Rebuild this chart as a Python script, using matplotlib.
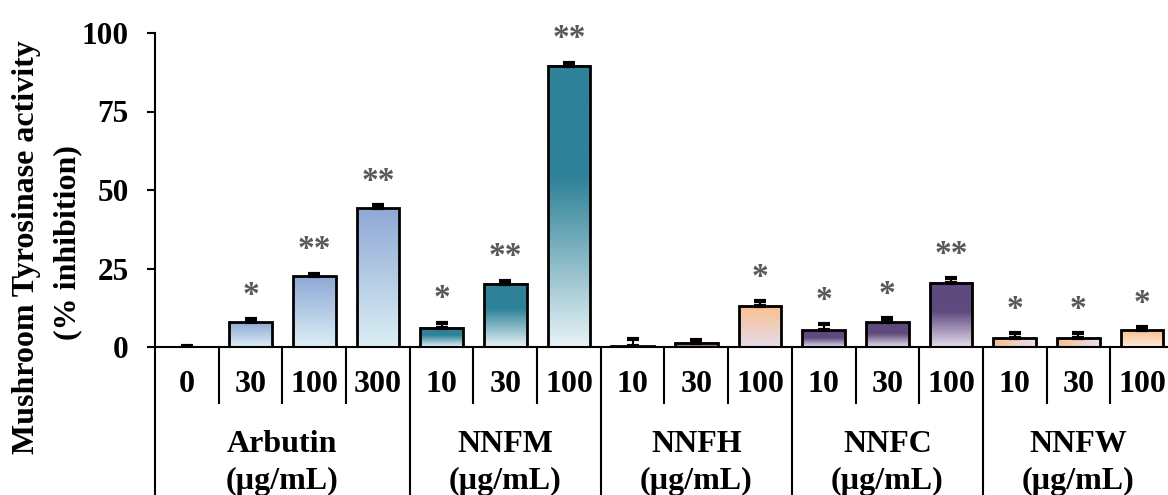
import numpy as np
import matplotlib.pyplot as plt
from matplotlib.colors import LinearSegmentedColormap

plt.rcParams['font.family'] = 'Liberation Serif'
plt.rcParams['font.weight'] = 'bold'

# Extracts and concentrations (ug/mL)
groups = ['Arbutin', 'NNFM', 'NNFH', 'NNFC', 'NNFW']
doses = [['0', '30', '100', '300'],
         ['10', '30', '100'],
         ['10', '30', '100'],
         ['10', '30', '100'],
         ['10', '30', '100']]

# Mean % inhibition, SEM and significance marks, one per bar
inhibition = [0.0, 7.9, 22.6, 44.2,
              6.2, 20.1, 89.6,
              0.3, 1.4, 13.2,
              5.4, 7.9, 20.4,
              3.0, 3.0, 5.4]
sem = [0.2, 0.9, 0.8, 0.9,
       1.4, 0.9, 0.9,
       2.2, 0.8, 1.3,
       1.8, 1.2, 1.5,
       1.3, 1.3, 0.9]
stars = ['', '*', '**', '**',
         '*', '**', '**',
         '', '', '*',
         '*', '*', '**',
         '*', '*', '*']


def ramp(*stops):
    '''Colormap from (position, colour) stops, 0 = bottom/left, 1 = top/right.'''
    return LinearSegmentedColormap.from_list('', list(stops))


arbutin = ramp((0, '#DCEFF5'), (1, '#8EA8D5'))
nnfm = ramp((0, '#E8F3F6'), (0.6, '#2E8299'), (1, '#2E8299'))
nnfh = ramp((0, '#E6DCEA'), (1, '#F9BF8D'))
nnfh_low = ramp((0, '#A0807C'), (1, '#A0807C'))
nnfc = ramp((0, '#E4DCEC'), (0.55, '#5E4A7E'), (1, '#5E4A7E'))
nnfw_h = ramp((0, '#F8BE8A'), (1, '#E6E1EF'))
nnfw_v = ramp((0, '#FDEBDD'), (1, '#F9C090'))

fills = [arbutin] * 4 + [nnfm] * 3 + [nnfh, nnfh_low, nnfh] + [nnfc] * 3 + [nnfw_h, nnfw_h, nnfw_v]
horizontal = [False] * 13 + [True, True, False]

fig = plt.figure(figsize=(11.68, 4.95), dpi=100)
ax = fig.add_axes([155 / 1168, 148 / 495, 1019 / 1168, 314 / 495])

x = np.arange(len(inhibition))
bars = ax.bar(x, inhibition, width=0.67, facecolor='none', edgecolor='black',
              linewidth=2, zorder=3)

# Gradient fill inside every bar
grad = np.linspace(0, 1, 256)
for bar, cmap, horiz in zip(bars, fills, horizontal):
    x0, w, h = bar.get_x(), bar.get_width(), bar.get_height()
    if h <= 0:
        continue
    img = grad[None, :] if horiz else grad[:, None]
    ax.imshow(img, cmap=cmap, vmin=0, vmax=1, origin='lower', aspect='auto',
              extent=(x0, x0 + w, 0, h), zorder=2, interpolation='bilinear')

ax.errorbar(x, inhibition, yerr=[np.zeros(len(sem)), sem], fmt='none',
            ecolor='black', elinewidth=1.5, capsize=4.5, capthick=3, zorder=4)

# Significance asterisks above the error bars
for xi, v, e, s in zip(x, inhibition, sem, stars):
    if s:
        ax.text(xi, v + e + 5.0, s, ha='center', va='baseline', fontsize=24,
                color='#595959', clip_on=False)

ax.set_xlim(-0.5, len(inhibition) - 0.5)
ax.set_ylim(0, 100)
ax.set_yticks([0, 25, 50, 75, 100])
ax.set_xticks([])
ax.tick_params(axis='y', length=6, width=1.5, pad=13, labelsize=22.5)
for side in ['top', 'right']:
    ax.spines[side].set_visible(False)
for side in ['left', 'bottom']:
    ax.spines[side].set_linewidth(1.5)

# Table under the axis: dose row, then group names
trans = ax.get_xaxis_transform()
ax.plot([-0.5, -0.5], [0, -0.48], color='black', lw=1.5, transform=trans, clip_on=False)
pos = 0
for name, ds in zip(groups, doses):
    for i, d in enumerate(ds):
        ax.text(pos + i, -0.121, d, ha='center', va='center', fontsize=23, transform=trans)
        end = -0.48 if i == len(ds) - 1 else -0.178
        ax.plot([pos + i + 0.5] * 2, [0, end], color='black', lw=1.5,
                transform=trans, clip_on=False)
    mid = pos + (len(ds) - 1) / 2
    ax.text(mid, -0.31, name, ha='center', va='center', fontsize=23, transform=trans)
    ax.text(mid, -0.428, '(µg/mL)', ha='center', va='center', fontsize=23, transform=trans)
    pos += len(ds)

fig.text(27 / 1168, 0.5, 'Mushroom Tyrosinase activity', rotation=90,
         ha='center', va='center', fontsize=23)
fig.text(68 / 1168, 0.51, '(% inhibition)', rotation=90,
         ha='center', va='center', fontsize=23)

fig.savefig('out.png', dpi=100)
